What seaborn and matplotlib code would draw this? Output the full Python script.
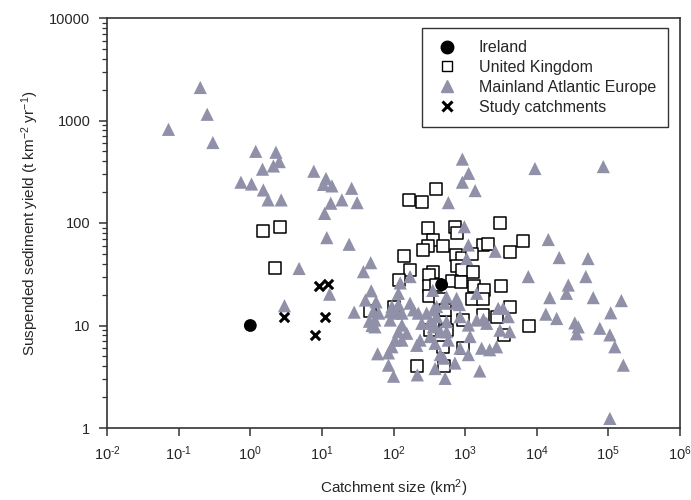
import numpy as np
import pandas as pd
import matplotlib
matplotlib.use("Agg")
import matplotlib.pyplot as plt
import matplotlib.ticker as mticker
from matplotlib.lines import Line2D
import seaborn as sns

# catchment size (km2) and suspended sediment yield (t km-2 yr-1)
ireland_area = [1.0, 470]
ireland_ssy = [10, 25]

uk_area = [1.5, 2.6, 2.23, 389, 166, 252, 3070, 300, 723, 765, 360, 6490, 1790, 2100,
           300, 487, 257, 4220, 142, 745, 890, 1230, 780, 890, 170, 353, 1300, 310,
           120, 650, 880, 3170, 310, 393, 1350, 1860, 310, 447, 1240, 1800, 4220,
           2760, 7770, 3480, 525, 324, 550, 487, 944, 210, 500, 47, 100, 525, 944, 1800]
uk_ssy = [83, 91, 36.7, 213, 166, 162, 100, 89, 92, 79, 68, 66, 61, 62,
          59, 59, 54, 52, 47.7, 48.8, 46, 49.6, 38, 35, 35, 33.5, 33.5, 31,
          27.8, 27.4, 26.4, 24.3, 24.3, 24.8, 24.3, 22.2, 19.4, 18.1, 18, 18.1, 15.2,
          12.2, 10, 8.1, 10.9, 9.0, 9.0, 6.2, 6.1, 4.0, 4.0, 14, 15.3, 14.2, 11.3, 12.6]

europe_area = [0.2, 0.25, 0.072, 0.3, 1.19, 2.28, 2.54, 2.1, 1.48, 0.74, 1.04, 1.52, 1.77, 2.7,
               7.7, 11.4, 10.5, 13.8, 26, 13.3, 19, 31, 10.9, 11.7, 24, 48, 38, 4.8, 3.0,
               12.8, 48.8, 40.5, 57, 28.2, 52, 55, 50, 60, 85, 85, 100, 124, 170, 117, 62,
               46, 55, 90, 90, 117, 131, 170, 190, 222, 290, 360, 131, 117, 105, 131, 248,
               324, 400, 235, 324, 211, 215, 380, 353, 550, 760, 830, 520, 1450, 2900, 3400,
               4000, 850, 1450, 1800, 550, 360, 450, 3070, 4200, 1170, 550, 580, 450, 500,
               850, 1110, 1700, 2200, 2750, 720, 1600, 525, 915, 1120, 915, 1380, 583, 9440,
               975, 1110, 2630, 1050, 7620, 14500, 13400, 85000, 20600, 52000, 48500, 27600,
               26000, 15200, 61500, 152000, 108000, 19000, 34000, 38000, 36000, 76000, 105000,
               123000, 162000, 105000, 95, 111, 153, 95, 400, 760, 360, 380, 1110, 2000]
europe_ssy = [2100, 1150, 820, 610, 500, 490, 397, 360, 335, 250, 240, 210, 168, 168,
              320, 272, 238, 230, 218, 156, 168, 158, 124, 72, 62, 41, 33.5, 36, 15.6,
              20.2, 21.8, 17.7, 17, 13.5, 13.6, 11.3, 10, 5.3, 4.1, 5.4, 3.2, 26, 30, 20.6, 13.2,
              11, 9.7, 13.6, 11.3, 16, 13.2, 16.5, 14.2, 13.2, 13.2, 14.2, 10.1, 8.7, 7.2, 7.2, 10.5,
              10.9, 12.2, 7.2, 7.8, 6.4, 3.3, 3.8, 22, 19, 18.4, 16, 16.5, 20.6, 14.7, 14.7,
              12.2, 12.2, 11.3, 11.5, 10.9, 9.7, 8.7, 9.0, 8.7, 7.8, 8.7, 7.2, 5.2, 4.8,
              6.0, 5.2, 6.0, 5.8, 6.2, 4.3, 3.6, 3.05, 420, 305, 250, 207, 158, 340,
              92, 61, 53, 45, 30, 69, 12.9, 355, 46, 45, 30, 24.8,
              20.6, 18.7, 18.7, 17.5, 13.3, 11.7, 10.6, 9.7, 8.3, 9.4, 8.1,
              6.2, 4.1, 1.24, 15.3, 13.2, 8.4, 6.2, 15.3, 16.5, 10.5, 6.7, 10.1, 10.5]

study_area = [3.0, 9.1, 12.1, 11.1, 8.1]
study_ssy = [12.1, 24.3, 25.4, 12.1, 8.1]

x_exponents = [-2, -1, 0, 1, 2, 3, 4, 5, 6]
y_ticks = [1, 10, 100, 1000, 10000]

tri_color = "#9090a9"

sns.set_style("ticks")
plt.rcParams["font.family"] = ["Liberation Sans", "DejaVu Sans"]
plt.rcParams["mathtext.fontset"] = "custom"
plt.rcParams["mathtext.rm"] = "Liberation Sans"
plt.rcParams["mathtext.it"] = "Liberation Sans:italic"
plt.rcParams["mathtext.default"] = "regular"

fig = plt.figure(figsize=(6.91, 5.0), dpi=100)
ax = fig.add_axes([0.155, 0.144, 0.829, 0.82])

uk = pd.DataFrame({"area": uk_area, "ssy": uk_ssy})
eu = pd.DataFrame({"area": europe_area, "ssy": europe_ssy})
ie = pd.DataFrame({"area": ireland_area, "ssy": ireland_ssy})
st = pd.DataFrame({"area": study_area, "ssy": study_ssy})

sns.scatterplot(data=uk, x="area", y="ssy", marker="s", s=70, facecolor="white",
                edgecolor="black", linewidth=1.1, ax=ax, zorder=2)
sns.scatterplot(data=eu, x="area", y="ssy", marker="^", s=90, color=tri_color,
                edgecolor="none", linewidth=0, ax=ax, zorder=3)
sns.scatterplot(data=ie, x="area", y="ssy", marker="o", s=85, color="black",
                edgecolor="none", ax=ax, zorder=4)
sns.scatterplot(data=st, x="area", y="ssy", marker="x", s=45, color="black",
                linewidth=2.2, ax=ax, zorder=5)

ax.set_xscale("log")
ax.set_yscale("log")
ax.set_xlim(1e-2, 1e6)
ax.set_ylim(1, 1e4)

ax.xaxis.set_major_locator(mticker.FixedLocator([10.0 ** e for e in x_exponents]))
ax.xaxis.set_major_formatter(mticker.FixedFormatter(
    ["10$^{" + str(e).replace("-", "\u2010") + "}$" for e in x_exponents]))
ax.xaxis.set_minor_locator(mticker.NullLocator())
ax.yaxis.set_major_locator(mticker.FixedLocator(y_ticks))
ax.yaxis.set_major_formatter(mticker.FixedFormatter([str(v) for v in y_ticks]))
ax.yaxis.set_minor_locator(mticker.LogLocator(base=10, subs=np.arange(2, 10), numticks=20))

for s in ax.spines.values():
    s.set_color("#333333")
    s.set_linewidth(1.2)
ax.tick_params(axis="both", which="major", direction="out", length=6, width=1.1,
               color="#333333", labelsize=10.5, pad=6)
ax.tick_params(axis="y", which="minor", direction="out", length=3.5, width=0.9,
               color="#333333")

ax.set_xlabel("Catchment size (km$^{2}$)", fontsize=11, labelpad=10)
ax.set_ylabel("Suspended sediment yield (t km$^{-2}$ yr$^{-1}$)", fontsize=11, labelpad=6)

handles = [
    Line2D([], [], marker="o", linestyle="none", markersize=9, color="black"),
    Line2D([], [], marker="s", linestyle="none", markersize=7.5, markerfacecolor="white",
           markeredgecolor="black", markeredgewidth=1.0),
    Line2D([], [], marker="^", linestyle="none", markersize=9, color=tri_color),
    Line2D([], [], marker="x", linestyle="none", markersize=6.5, color="black",
           markeredgewidth=2.2),
]
labels = ["Ireland", "United Kingdom", "Mainland Atlantic Europe", "Study catchments"]
leg = ax.legend(handles, labels, loc="upper right", bbox_to_anchor=(0.979, 0.975),
                frameon=True, fancybox=False, edgecolor="black", fontsize=11.5,
                borderpad=0.75, handletextpad=1.2, labelspacing=0.3, borderaxespad=0,
                handlelength=1.6)
leg.get_frame().set_linewidth(1.0)

fig.savefig("out.png", dpi=100)
